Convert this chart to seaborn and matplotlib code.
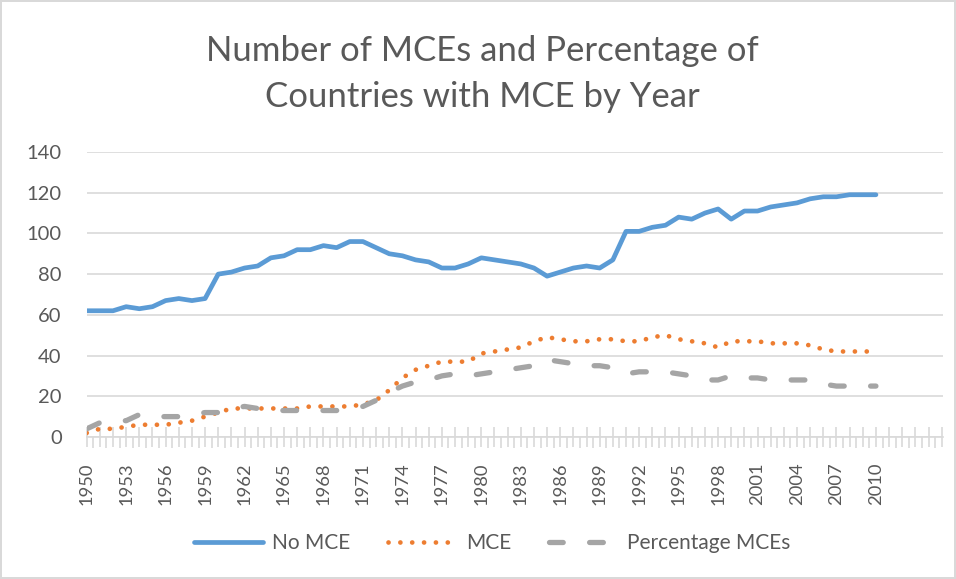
import matplotlib
matplotlib.use("Agg")
import matplotlib.pyplot as plt
import seaborn as sns
import numpy as np
import pandas as pd
from matplotlib.ticker import MultipleLocator, FixedLocator

years = list(range(1950, 2011))
no_mce = [62, 62, 62, 64, 63, 64, 67, 68, 67, 68,
          80, 81, 83, 84, 88, 89, 92, 92, 94, 93,
          96, 96, 93, 90, 89, 87, 86, 83, 83, 85,
          88, 87, 86, 85, 83, 79, 81, 83, 84, 83,
          87, 101, 101, 103, 104, 108, 107, 110, 112, 107,
          111, 111, 113, 114, 115, 117, 118, 118, 119, 119, 119]
mce = [2, 4, 4, 5, 6, 6, 6, 7, 8, 10,
       12, 14, 14, 14, 14, 14, 14, 15, 15, 15,
       15, 16, 18, 23, 29, 33, 35, 37, 37, 37,
       41, 42, 43, 44, 47, 49, 48, 47, 47, 48,
       48, 47, 47, 49, 50, 48, 47, 46, 44, 47,
       47, 47, 46, 46, 46, 45, 43, 42, 42, 42, 42]
pct = [4, 7, 8, 8, 11, 10, 10, 10, 11, 12,
       12, 14, 15, 14, 13, 13, 13, 13, 13, 13,
       14, 15, 18, 22, 25, 27, 28, 30, 31, 30,
       31, 32, 33, 34, 35, 38, 37, 36, 35, 35,
       34, 31, 32, 32, 32, 31, 30, 28, 28, 30,
       29, 29, 28, 28, 28, 28, 26, 25, 25, 25, 25]
labels = ["No MCE", "MCE", "Percentage MCEs"]
title = "Number of MCEs and Percentage of\nCountries with MCE by Year"
tick_years = list(range(1950, 2011, 3))

sns.set_theme(style="white")
plt.rcParams['font.family'] = ['Lato', 'DejaVu Sans']
txt = "#595959"
grid_c = "#d9d9d9"

fig = plt.figure(figsize=(9.56, 5.79), dpi=100)
fig.patch.set_edgecolor(grid_c)
fig.patch.set_linewidth(1.5)
ax = fig.add_axes([0.0907, 0.2453, 0.986 - 0.0907, 0.7375 - 0.2453])

df = pd.DataFrame({"year": years, labels[0]: no_mce, labels[1]: mce, labels[2]: pct})

sns.lineplot(data=df, x="year", y=labels[0], ax=ax, color="#5B9BD5", linewidth=3.4,
             label=labels[0], solid_capstyle="round")
sns.lineplot(data=df, x="year", y=labels[1], ax=ax, color="#ED7D31", linewidth=3.4,
             label=labels[1], linestyle=(0, (0.01, 2.5)), dash_capstyle="round")
sns.lineplot(data=df, x="year", y=labels[2], ax=ax, color="#A5A5A5", linewidth=3.8,
             label=labels[2], linestyle=(0, (2.6, 5.0)), dash_capstyle="round")

ax.set_xlim(1950, 2015.07)
ax.set_ylim(0, 140)
ax.set_yticks(range(0, 141, 20))
ax.yaxis.grid(True, color=grid_c, linewidth=1.2)
ax.set_axisbelow(True)
for s in ["top", "right", "left"]:
    ax.spines[s].set_visible(False)
ax.spines["bottom"].set_color(grid_c)
ax.spines["bottom"].set_linewidth(1.2)

all_years = list(range(1950, 2016))
ax.xaxis.set_major_locator(FixedLocator(all_years))
ax.set_xticklabels([str(y) if y in tick_years else "" for y in all_years], rotation=90)
ax.xaxis.set_minor_locator(FixedLocator([y + 0.5 for y in range(1950, 2015)]))
ax.tick_params(axis="x", which="major", direction="inout", length=15, width=1.2,
               color=grid_c, labelsize=13.2, labelcolor=txt, pad=11, bottom=True)
ax.tick_params(axis="x", which="minor", direction="out", length=8, width=1.2,
               color=grid_c, bottom=True)
ax.tick_params(axis="y", length=0, labelsize=14.5, labelcolor=txt, pad=18)
ax.set_xlabel("")
ax.set_ylabel("")

ax.get_legend().remove()
handles, labs = ax.get_legend_handles_labels()
fig.legend(handles, labs, loc="center", bbox_to_anchor=(0.515, 0.062), ncol=3,
           frameon=False, fontsize=15, labelcolor=txt, handlelength=3.3,
           columnspacing=1.8, handletextpad=0.45)

fig.text(0.505, 0.872, title, ha="center", va="center", fontsize=25, color=txt,
         linespacing=1.55)

fig.savefig("out.png", dpi=100)
